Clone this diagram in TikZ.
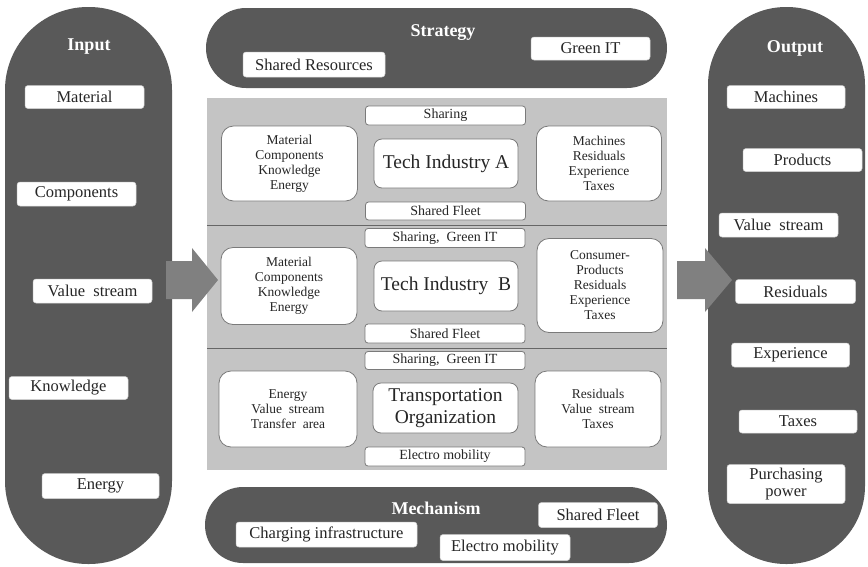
\documentclass[tikz,border=0pt]{standalone}
\usepackage{fontspec}
\setmainfont{Liberation Serif}
\newfontfamily\serifface{Liberation Serif}
\begin{document}
\begin{tikzpicture}[x=1pt,y=-1pt,
  capsule/.style={fill=capgray, draw=none, inner sep=0pt},
  captitle/.style={text=white, font=\serifface\fontsize{18}{20}\selectfont\bfseries, inner sep=0pt},
  itembox/.style={fill=white, draw=itemline, line width=0.5pt, rounded corners=3pt,
    text=textgray, inner sep=0pt, font=\serifface\fontsize{16.5}{18}\selectfont, align=center},
  tagbox/.style={fill=white, draw=boxline, line width=0.8pt, rounded corners=3pt,
    text=textgray, inner sep=0pt, font=\serifface\fontsize{14}{15}\selectfont},
  sidebox/.style={fill=white, draw=boxline, line width=0.8pt, rounded corners=12pt,
    text=textgray, inner sep=0pt, align=center, font=\serifface\fontsize{13.5}{15}\selectfont},
  corebox/.style={fill=white, draw=boxline, line width=0.8pt, rounded corners=8pt,
    text=textgray, inner sep=0pt, align=center, font=\serifface\fontsize{19.5}{22}\selectfont},
  blockarrow/.style={fill=arrowgray, draw=none}]
\definecolor{capgray}{HTML}{595959}
\definecolor{panelgray}{HTML}{C4C4C4}
\definecolor{arrowgray}{HTML}{808080}
\definecolor{boxline}{HTML}{7A7A7A}
\definecolor{itemline}{HTML}{D0D0D0}
\definecolor{textgray}{HTML}{262626}
\definecolor{divline}{HTML}{666666}

\useasboundingbox (0,0) rectangle (868,566);
\fill[white] (0,0) rectangle (868,566);

% ---------- side capsules ----------
\node[capsule, minimum width=167pt, minimum height=557pt, rounded corners=83pt] (input) at (88.5,285.5) {};
\node[capsule, minimum width=157pt, minimum height=557pt, rounded corners=78pt] (output) at (786.5,285.5) {};

% ---------- top and bottom capsules ----------
\node[capsule, minimum width=461pt, minimum height=80pt, rounded corners=40pt] (strategy) at (436.5,48) {};
\node[capsule, minimum width=462pt, minimum height=76pt, rounded corners=38pt] (mechanism) at (436,525) {};

% ---------- central panel ----------
\node[fill=panelgray, draw=none, minimum width=460pt, minimum height=372pt, inner sep=0pt] (panel) at (437,284) {};
\coordinate (divAl) at (207,225);
\coordinate (divAr) at (667,225);
\coordinate (divBl) at (207,348);
\coordinate (divBr) at (667,348);
\draw[divline, line width=1pt] (divAl) -- (divAr);
\draw[divline, line width=1pt] (divBl) -- (divBr);

% ---------- block arrows ----------
\fill[blockarrow] (166,261) -- (192,261) -- (192,248) -- (218,280) -- (192,312) -- (192,299) -- (166,299) -- cycle;
\fill[blockarrow] (677,261) -- (705,261) -- (705,248) -- (732,280) -- (705,312) -- (705,299) -- (677,299) -- cycle;

% ---------- Input ----------
\node[captitle] (inTitle) at (89,47) {Input};
\node[itembox, minimum width=119pt, minimum height=23pt] (inMat) at (84.5,97) {Material};
\node[itembox, minimum width=119pt, minimum height=24pt] (inComp) at (76.5,194) {Components};
\node[itembox, minimum width=119pt, minimum height=24pt] (inVal) at (92.5,291) {Value\ \ stream};
\node[itembox, minimum width=119pt, minimum height=23pt] (inKnow) at (68.5,388) {Knowledge};
\node[itembox, minimum width=117pt, minimum height=25pt] (inEn) at (100.5,486) {Energy};

% ---------- Output ----------
\node[captitle] (outTitle) at (795,48) {Output};
\node[itembox, minimum width=118pt, minimum height=23pt] (outMach) at (786,97) {Machines};
\node[itembox, minimum width=119pt, minimum height=23pt] (outProd) at (802.5,160) {Products};
\node[itembox, minimum width=119pt, minimum height=24pt] (outVal) at (778.5,225) {Value\ \ stream};
\node[itembox, minimum width=120pt, minimum height=24pt] (outRes) at (795.5,291.5) {Residuals};
\node[itembox, minimum width=118pt, minimum height=24pt] (outExp) at (790.5,355) {Experience};
\node[itembox, minimum width=118pt, minimum height=23pt] (outTax) at (798,421.5) {Taxes};
\node[itembox, minimum width=118pt, minimum height=39pt, font=\serifface\fontsize{16.5}{17}\selectfont] (outPow) at (786,484) {Purchasing\\power};

% ---------- Strategy ----------
\node[captitle] (stTitle) at (443,33) {Strategy};
\node[itembox, minimum width=142pt, minimum height=25pt] (stShared) at (314,64.5) {Shared Resources};
\node[itembox, minimum width=119pt, minimum height=23pt] (stGreen) at (590.5,48.5) {Green IT};

% ---------- Mechanism ----------
\node[captitle] (meTitle) at (436,508) {Mechanism};
\node[itembox, minimum width=181pt, minimum height=25pt] (meCharge) at (326.5,534.5) {Charging infrastructure};
\node[itembox, minimum width=130pt, minimum height=26pt] (meElectro) at (505,547.5) {Electro mobility};
\node[itembox, minimum width=119pt, minimum height=25pt] (meFleet) at (598,515) {Shared Fleet};

% ---------- Tech Industry A ----------
\node[tagbox, minimum width=160pt, minimum height=19pt] (aTop) at (445.5,115.5) {Sharing};
\node[sidebox, minimum width=136pt, minimum height=75pt] (aIn) at (289.5,163.5) {Material\\Components\\Knowledge\\Energy};
\node[corebox, minimum width=144pt, minimum height=49pt] (aCore) at (446,163.5) {Tech Industry A};
\node[sidebox, minimum width=125pt, minimum height=75pt] (aOut) at (599,163.5) {Machines\\Residuals\\Experience\\Taxes};
\node[tagbox, minimum width=160pt, minimum height=18pt] (aBot) at (445.5,211) {Shared Fleet};

% ---------- Tech Industry B ----------
\node[tagbox, minimum width=160pt, minimum height=19pt] (bTop) at (445,238) {Sharing,\ \ Green IT};
\node[sidebox, minimum width=136pt, minimum height=77pt] (bIn) at (289,286) {Material\\Components\\Knowledge\\Energy};
\node[corebox, minimum width=144pt, minimum height=50pt] (bCore) at (446,286) {Tech Industry\ \ B};
\node[sidebox, minimum width=126pt, minimum height=94pt] (bOut) at (600,285.5) {Consumer-\\Products\\Residuals\\Experience\\Taxes};
\node[tagbox, minimum width=160pt, minimum height=19pt] (bBot) at (445,333.5) {Shared Fleet};

% ---------- Transportation Organization ----------
\node[tagbox, minimum width=160pt, minimum height=18pt] (cTop) at (445,360.5) {Sharing,\ \ Green IT};
\node[sidebox, minimum width=138pt, minimum height=76pt] (cIn) at (288,409) {Energy\\Value\ \ stream\\Transfer\ \ area};
\node[corebox, minimum width=145pt, minimum height=50pt] (cCore) at (445.5,408) {Transportation\\Organization};
\node[sidebox, minimum width=126pt, minimum height=76pt] (cOut) at (598,409) {Residuals\\Value\ \ stream\\Taxes};
\node[tagbox, minimum width=160pt, minimum height=19pt] (cBot) at (445,456.5) {Electro mobility};
\end{tikzpicture}
\end{document}
